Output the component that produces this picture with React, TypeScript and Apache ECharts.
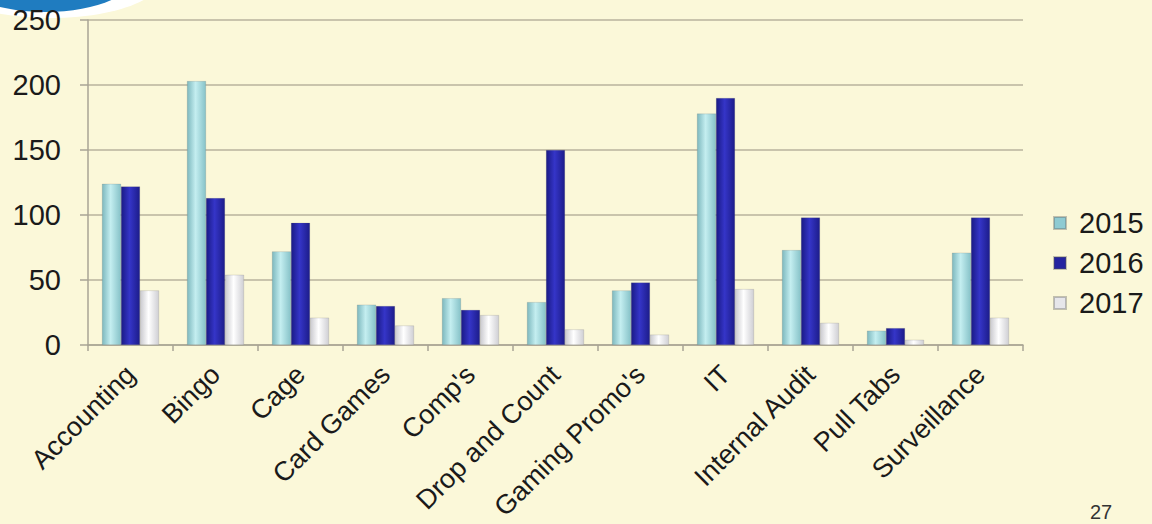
import React, { useEffect, useRef } from "react";
import * as echarts from "echarts";

const categories = ["Accounting", "Bingo", "Cage", "Card Games", "Comp's", "Drop and Count", "Gaming Promo's", "IT", "Internal Audit", "Pull Tabs", "Surveillance"];
const s2015 = [124, 203, 72, 31, 36, 33, 42, 178, 73, 11, 71];
const s2016 = [122, 113, 94, 30, 27, 150, 48, 190, 98, 13, 98];
const s2017 = [42, 54, 21, 15, 23, 12, 8, 43, 17, 4, 21];
const yTicks = [0, 50, 100, 150, 200, 250];

const grad = (a: string, b: string, c: string) =>
  new echarts.graphic.LinearGradient(0, 0, 1, 0, [
    { offset: 0, color: a },
    { offset: 0.45, color: b },
    { offset: 1, color: c },
  ]);

export default function App() {
  const ref = useRef<HTMLDivElement>(null);
  useEffect(() => {
    const chart = echarts.init(ref.current!, undefined, { renderer: "svg" });
    const font = "'Liberation Sans', Arial, sans-serif";
    const mk = (name: string, data: number[], fill: any) => ({
      name,
      type: "bar",
      data,
      barWidth: 19,
      barGap: "0%",
      itemStyle: { color: fill, borderColor: "rgba(90,90,90,0.35)", borderWidth: 0.5 },
      emphasis: { disabled: true },
    });
    chart.setOption({
      animation: false,
      backgroundColor: "#FBF8D9",
      textStyle: { fontFamily: font },
      grid: { left: 88, right: 129, top: 20, bottom: 179 },
      legend: {
        orient: "vertical",
        left: 1048,
        top: 201,
        itemWidth: 12,
        itemHeight: 12,
        itemGap: 6,
        icon: "rect",
        textStyle: { fontSize: 29, lineHeight: 34, color: "#1a1a1a", fontFamily: font, padding: [0, 0, 0, 8] },
        data: [
          { name: "2015", itemStyle: { color: "#8FCBD2" } },
          { name: "2016", itemStyle: { color: "#2424A0" } },
          { name: "2017", itemStyle: { color: "#E6E6EA" } },
        ],
      },
      xAxis: {
        type: "category",
        data: categories,
        axisLine: { lineStyle: { color: "#A8A594", width: 1.5 } },
        axisTick: { show: true, length: 6, lineStyle: { color: "#A8A594", width: 1.5 } },
        axisLabel: {
          interval: 0,
          rotate: 45,
          fontSize: 27,
          color: "#1a1a1a",
          fontFamily: font,
          margin: 25,
        },
      },
      yAxis: {
        type: "value",
        min: 0,
        max: 250,
        interval: 50,
        axisLine: { show: true, lineStyle: { color: "#A8A594", width: 1.5 } },
        axisTick: { show: true, length: 8, lineStyle: { color: "#A8A594", width: 1.5 } },
        splitLine: { lineStyle: { color: "#B8B39C", width: 1.5 } },
        axisLabel: {
          fontSize: 29,
          color: "#1a1a1a",
          fontFamily: font,
          margin: 27,
          formatter: (v: number) => (yTicks.includes(v) ? String(v) : ""),
        },
      },
      graphic: [
        {
          type: "ellipse",
          shape: { cx: 50, cy: -20, rx: 110, ry: 38 },
          style: { fill: "#ffffff" },
          silent: true,
        },
        {
          type: "ellipse",
          shape: { cx: 45, cy: -25, rx: 90, ry: 37 },
          style: { fill: "#1F7CC0" },
          silent: true,
        },
        {
          type: "text",
          left: 1090,
          top: 502,
          style: { text: "27", fontSize: 20, fill: "#333", fontFamily: font },
          silent: true,
        },
      ],
      series: [
        mk("2015", s2015, grad("#7DB8BE", "#C4EEF0", "#86C2C8")),
        mk("2016", s2016, grad("#1A1A85", "#3535C8", "#1C1C8A")),
        mk("2017", s2017, grad("#C9C9CE", "#FFFFFF", "#CFCFD4")),
      ],
    });
    return () => chart.dispose();
  }, []);
  return <div ref={ref} style={{ position: "fixed", left: 0, top: 0, width: 1152, height: 524 }} />;
}
